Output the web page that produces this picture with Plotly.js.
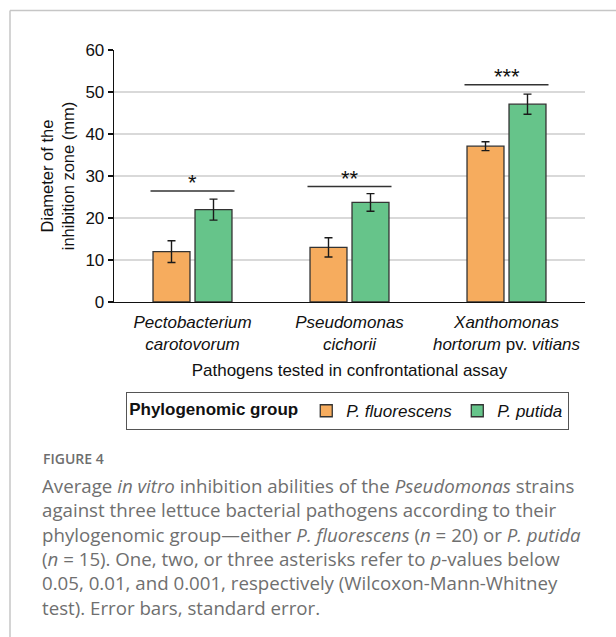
<!DOCTYPE html>
<html>
<head>
<meta charset="utf-8">
<script src="https://cdn.plot.ly/plotly-3.0.1.min.js"></script>
<style>
  html, body { margin: 0; padding: 0; background: #ffffff; }
  #chart { width: 616px; height: 637px; }
</style>
</head>
<body>
<div id="chart"></div>
<script>
// ---- data ----
const categories = [
  '<i>Pectobacterium</i><br><i>carotovorum</i>',
  '<i>Pseudomonas</i><br><i>cichorii</i>',
  '<i>Xanthomonas</i><br><i>hortorum</i> pv. <i>vitians</i>'
];
const seriesNames = ['<i>P. fluorescens</i>', '<i>P. putida</i>'];
const fluorescensMean = [12.0, 13.0, 37.1];
const fluorescensSE = [2.6, 2.3, 1.05];
const putidaMean = [22.0, 23.7, 47.1];
const putidaSE = [2.5, 2.1, 2.4];
const sigLabels = ['*', '**', '***'];
const sigLineY = [26.4, 27.5, 51.7];
const yTicks = [0, 10, 20, 30, 40, 50, 60];

// ---- layout geometry (pixels) ----
const W = 616, H = 637;
const PL = 114, PR = 585, PT = 50, PB = 302;
const px2x = p => (p - PL) / (PR - PL);
const px2y = p => (PB - p) / (PB - PT);

const FONT = 'Liberation Sans, Arial, sans-serif';
const CAPFONT = 'Open Sans, Noto Sans, sans-serif';
const xIdx = categories.map((c, i) => i);

const barLine = { color: '#333333', width: 1.3 };
const errStyle = { type: 'data', visible: true, thickness: 1.4, width: 4, color: '#1a1a1a' };

const traces = [
  {
    type: 'bar', name: seriesNames[0], x: xIdx, y: fluorescensMean,
    marker: { color: '#F6AC5E', line: barLine },
    error_y: Object.assign({ array: fluorescensSE }, errStyle)
  },
  {
    type: 'bar', name: seriesNames[1], x: xIdx, y: putidaMean,
    marker: { color: '#66C48A', line: barLine },
    error_y: Object.assign({ array: putidaSE }, errStyle)
  }
];

const BARGAP = 0.465, GROUPGAP = 0.12;
const halfGroup = (1 - BARGAP) / 2;

const shapes = [];
const annotations = [];
sigLabels.forEach((lab, i) => {
  shapes.push({
    type: 'line', xref: 'x', yref: 'y',
    x0: i - halfGroup, x1: i + halfGroup, y0: sigLineY[i], y1: sigLineY[i],
    line: { color: '#333333', width: 1.5 }
  });
  annotations.push({
    xref: 'x', yref: 'y', x: i, y: sigLineY[i], yanchor: 'bottom', xanchor: 'center',
    text: lab, showarrow: false, yshift: -6,
    font: { family: FONT, size: 22, color: '#111111' }
  });
});

// frame (light gray, top and left)
shapes.push({ type: 'line', xref: 'paper', yref: 'paper',
  x0: px2x(10), x1: px2x(W + 5), y0: px2y(10.5), y1: px2y(10.5),
  line: { color: '#c6c6c6', width: 1.5 } });
shapes.push({ type: 'line', xref: 'paper', yref: 'paper',
  x0: px2x(10), x1: px2x(10), y0: px2y(10.5), y1: px2y(H + 5),
  line: { color: '#c6c6c6', width: 1.5 } });

// caption
annotations.push({
  xref: 'paper', yref: 'paper', x: px2x(41), y: px2y(458), xanchor: 'left', yanchor: 'middle',
  text: 'FIGURE 4', showarrow: false, align: 'left',
  font: { family: CAPFONT, size: 14, color: '#6e6e6e', weight: 600 }
});
annotations.push({
  xref: 'paper', yref: 'paper', x: px2x(40), y: px2y(471), xanchor: 'left', yanchor: 'top',
  text: 'Average <i>in vitro</i> inhibition abilities of the <i>Pseudomonas</i> strains<br>' +
        'against three lettuce bacterial pathogens according to their<br>' +
        'phylogenomic group\u2014either <i>P. fluorescens</i> (<i>n</i> = 20) or <i>P. putida</i><br>' +
        '(<i>n</i> = 15). One, two, or three asterisks refer to <i>p</i>-values below<br>' +
        '0.05, 0.01, and 0.001, respectively (Wilcoxon-Mann-Whitney<br>' +
        'test). Error bars, standard error.',
  showarrow: false, align: 'left',
  font: { family: CAPFONT, size: 18.7, color: '#6f6f6f' }
});

const layout = {
  width: W, height: H,
  margin: { l: PL, r: W - PR, t: PT, b: H - PB, pad: 0 },
  paper_bgcolor: '#ffffff', plot_bgcolor: '#ffffff',
  font: { family: FONT, size: 17, color: '#111111' },
  barmode: 'group', bargap: BARGAP, bargroupgap: GROUPGAP,
  showlegend: true,
  legend: {
    orientation: 'h', xref: 'paper', yref: 'paper',
    x: px2x(126), xanchor: 'left', y: px2y(392), yanchor: 'top',
    bordercolor: '#555555', borderwidth: 1.2, bgcolor: '#ffffff',
    font: { family: FONT, size: 17, color: '#111111' },
    title: { text: '<b>Phylogenomic group</b>', side: 'left', font: { family: FONT, size: 17, color: '#111111' } },
    traceorder: 'normal'
  },
  xaxis: {
    range: [-0.5, categories.length - 0.5],
    tickmode: 'array', tickvals: xIdx, ticktext: categories,
    showgrid: false, zeroline: false,
    showline: true, linecolor: '#111111', linewidth: 1.3,
    ticks: '', ticklabelstandoff: 4,
    tickfont: { family: FONT, size: 17, color: '#111111' },
    title: { text: 'Pathogens tested in confrontational assay', standoff: 11,
             font: { family: FONT, size: 17, color: '#111111' } },
    fixedrange: true
  },
  yaxis: {
    range: [0, 60], tickmode: 'array', tickvals: yTicks,
    showgrid: true, gridcolor: '#d9d9d9', gridwidth: 1.5,
    zeroline: false, showline: true, linecolor: '#111111', linewidth: 1.3,
    ticks: 'outside', ticklen: 5, tickcolor: '#111111', tickwidth: 1.2,
    tickfont: { family: FONT, size: 17, color: '#111111' },
    title: { text: 'Diameter of the<br>inhibition zone (mm)', standoff: 6,
             font: { family: FONT, size: 16.5, color: '#111111' } },
    fixedrange: true
  },
  shapes: shapes,
  annotations: annotations
};

Plotly.newPlot('chart', traces, layout, { displayModeBar: false, staticPlot: true });
</script>
</body>
</html>
